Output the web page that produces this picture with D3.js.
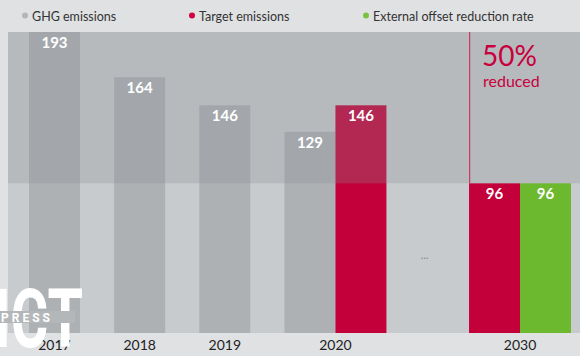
<!DOCTYPE html>
<html>
<head>
<meta charset="utf-8">
<script src="https://cdn.jsdelivr.net/npm/d3@7"></script>
<style>
    body { margin: 0; background: #fff; }
    text { font-family: Lato, "Noto Sans", sans-serif; }
</style>
</head>
<body>
<div id="content"></div>
<script>
'use strict';

// data
var years = ['2017', '2018', '2019', '2020', '2030']
var ghgEmissions = [193, 164, 146, 129, null]
var targetEmissions = [null, null, null, 146, 96]
var offsetRate = [null, null, null, null, 96]
var seriesNames = ['GHG emissions', 'Target emissions', 'External offset reduction rate']
var seriesColors = ['#adb1b4', '#c4003a', '#6cb82e']
var dotColors = ['#b3b6b9', '#d2003f', '#79c043']
var reducedPct = '50%'
var reducedText = 'reduced'

var width = 580, height = 362
var plot = { left: 8, right: 580, top: 32, bottom: 333 }
var axisBottom = 356
var barsLeft = 29, barsRight = 571
var gapUnit = 0.67 // gap between groups, in bar widths
var skipUnit = 1.62 // gap where years are skipped

var svg = d3.select('#content').append('svg').attr('width', width).attr('height', height)

// page + plot background
svg.append('rect').attr('width', width).attr('height', axisBottom).attr('fill', '#e0e1e3')
svg.append('rect').attr('x', plot.left).attr('y', plot.top)
    .attr('width', plot.right - plot.left).attr('height', plot.bottom - plot.top)
    .attr('fill', '#c8cbce')

// build bars from the series, group by year
var series = [ghgEmissions, targetEmissions, offsetRate]
var groups = []
var pos = 0
years.forEach(function(yr, i) {
    if (i > 0) {
        pos += (+yr - +years[i - 1] > 1) ? skipUnit : gapUnit
    }
    var g = { year: yr, start: pos, bars: [] }
    series.forEach(function(s, k) {
        if (s[i] != null) {
            g.bars.push({ value: s[i], k: k, slot: pos })
            pos += 1
        }
    })
    g.end = pos
    groups.push(g)
})

var x = d3.scaleLinear().domain([0, pos]).range([barsLeft, barsRight])
var y = d3.scaleLinear().domain([0, d3.max(ghgEmissions)]).range([plot.bottom, plot.top])
var bw = x(1) - x(0)

var allBars = []
groups.forEach(function(g) { g.bars.forEach(function(b) { allBars.push(b) }) })

svg.selectAll('rect.bar').data(allBars).enter().append('rect')
    .attr('class', 'bar')
    .attr('x', function(d) { return x(d.slot) })
    .attr('y', function(d) { return y(d.value) })
    .attr('width', bw)
    .attr('height', function(d) { return y(0) - y(d.value) })
    .attr('fill', function(d) { return seriesColors[d.k] })

// darker band above the 2030 target
var target2030 = targetEmissions[targetEmissions.length - 1]
svg.append('rect').attr('x', plot.left).attr('y', plot.top)
    .attr('width', plot.right - plot.left).attr('height', y(target2030) - plot.top)
    .attr('fill', '#8a8f93').attr('opacity', 0.28)

// vertical line at 2030
var last = groups[groups.length - 1]
svg.append('rect')
    .attr('x', x(last.start)).attr('width', 1.2)
    .attr('y', plot.top).attr('height', y(target2030) - plot.top)
    .attr('fill', '#cc3a60')

// value labels
svg.selectAll('text.val').data(allBars).enter().append('text')
    .attr('class', 'val')
    .attr('x', function(d) { return x(d.slot + 0.5) })
    .attr('y', function(d) { return y(d.value) + 16 })
    .attr('text-anchor', 'middle')
    .attr('fill', '#fff')
    .style('font-weight', 'bold')
    .style('font-size', '15px')
    .text(function(d) { return d.value })

// skipped years marker
var prev = groups[groups.length - 2]
svg.append('text')
    .attr('x', x((prev.end + last.start) / 2) - 3)
    .attr('y', 259)
    .attr('text-anchor', 'middle')
    .attr('fill', '#888')
    .style('font-size', '11px')
    .text('...')

// 50% reduced
svg.append('text').attr('x', x(last.start) + 13).attr('y', 66)
    .attr('fill', '#c8003d').style('font-size', '28px')
    .text(reducedPct)
svg.append('text').attr('x', x(last.start) + 14).attr('y', 87)
    .attr('fill', '#c8003d').style('font-size', '16px')
    .text(reducedText)

// x axis labels
svg.selectAll('text.year').data(groups).enter().append('text')
    .attr('class', 'year')
    .attr('x', function(d) { return x((d.start + d.end) / 2) })
    .attr('y', 349.5)
    .attr('text-anchor', 'middle')
    .attr('fill', '#222')
    .style('font-size', '14px')
    .text(function(d) { return d.year })

// legend
var legendX = [25, 192, 366]
var legend = svg.selectAll('g.leg').data(seriesNames).enter().append('g')
    .attr('class', 'leg')
    .attr('transform', function(d, i) { return 'translate(' + legendX[i] + ',16)' })
legend.append('circle').attr('r', 3).attr('cy', -0.5)
    .attr('fill', function(d, i) { return dotColors[i] })
legend.append('text').attr('x', 7).attr('y', 4.5)
    .attr('fill', '#333').style('font-size', '12.5px')
    .text(function(d) { return d })

// watermark
var wm = svg.append('g')
wm.append('text').attr('transform', 'translate(-6,347) scale(0.7,1)')
    .attr('fill', '#fff').style('font-size', '82px').style('font-weight', 'bold')
    .style('font-family', 'Roboto, sans-serif')
    .text('ICT')
wm.append('rect').attr('x', 0).attr('y', 311).attr('width', 75).attr('height', 12).attr('fill', '#b4b7ba')
wm.append('text').attr('x', 1).attr('y', 321.5)
    .attr('fill', '#fff').style('font-size', '12px').style('font-weight', 'bold')
    .style('font-family', 'Roboto, sans-serif')
    .style('letter-spacing', '3px')
    .text('PRESS')
</script>
</body>
</html>
